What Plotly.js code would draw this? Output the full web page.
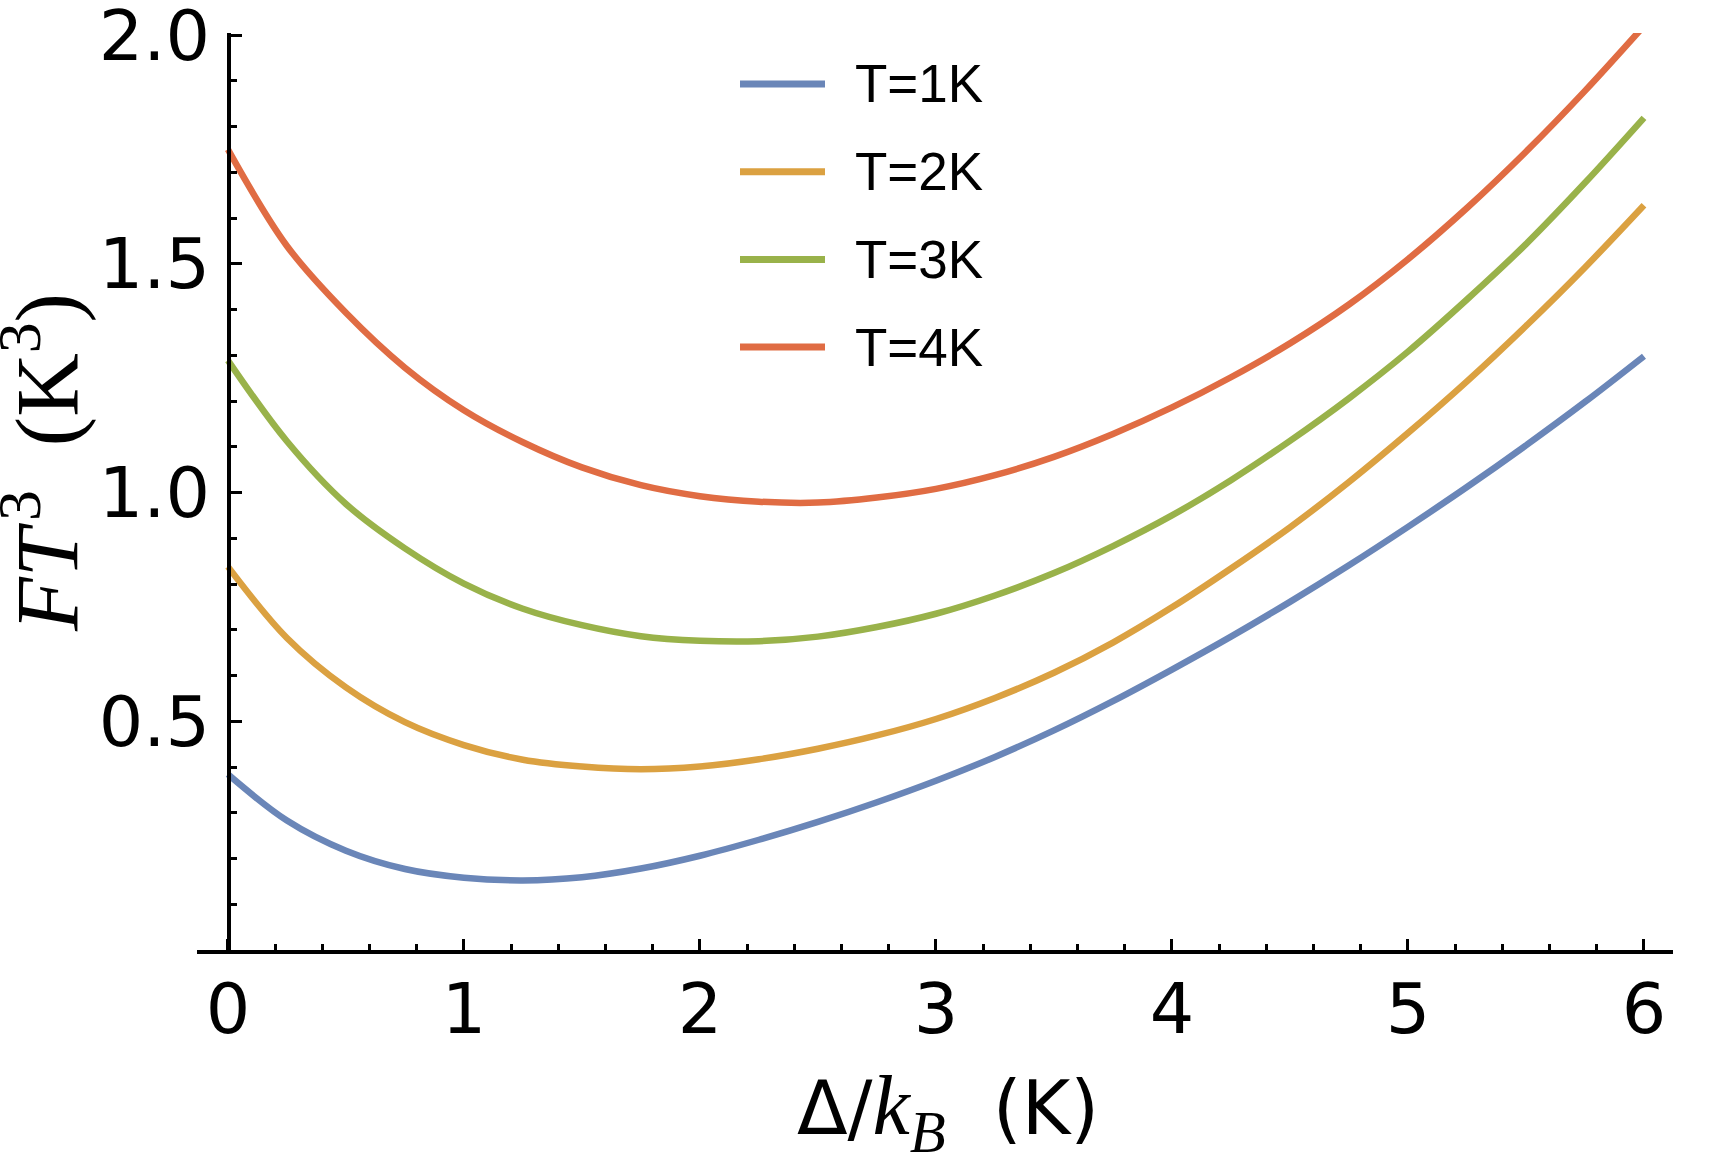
<!DOCTYPE html>
<html>
<head>
<meta charset="utf-8">
<script src="https://cdn.plot.ly/plotly-3.0.1.min.js"></script>
<style>
    html, body { margin: 0; padding: 0; background: #ffffff; }
    #plot { width: 1718px; height: 1160px; }
</style>
</head>
<body>
<div id="plot"></div>
<script>
// gap energy Delta/kB in K
var delta = [0, 0.25, 0.5, 0.75, 1, 1.25, 1.5, 1.75, 2, 2.25, 2.5, 2.75, 3,
             3.25, 3.5, 3.75, 4, 4.25, 4.5, 4.75, 5, 5.25, 5.5, 5.75, 6];

// F T^3 (K^3), one array per temperature
var t1 = [0.384, 0.283, 0.217, 0.177, 0.158, 0.152, 0.159, 0.178, 0.206, 0.241, 0.280, 0.323, 0.370,
          0.422, 0.480, 0.544, 0.613, 0.685, 0.761, 0.841, 0.925, 1.012, 1.103, 1.198, 1.298];
var t2 = [0.838, 0.682, 0.574, 0.498, 0.448, 0.416, 0.401, 0.395, 0.401, 0.417, 0.440, 0.469, 0.505,
          0.551, 0.606, 0.672, 0.749, 0.834, 0.924, 1.023, 1.130, 1.243, 1.364, 1.492, 1.628];
var t3 = [1.289, 1.112, 0.975, 0.878, 0.801, 0.746, 0.710, 0.686, 0.676, 0.675, 0.685, 0.706, 0.735,
          0.775, 0.824, 0.883, 0.950, 1.027, 1.113, 1.206, 1.308, 1.422, 1.543, 1.677, 1.819];
var t4 = [1.750, 1.539, 1.393, 1.273, 1.180, 1.110, 1.055, 1.016, 0.992, 0.980, 0.978, 0.989, 1.008,
          1.038, 1.078, 1.128, 1.186, 1.252, 1.326, 1.411, 1.510, 1.622, 1.745, 1.878, 2.020];

var names = ["T=1K", "T=2K", "T=3K", "T=4K"];
var colors = ["#6a86b8", "#dba141", "#99b24a", "#e06c43"];
var series = [t1, t2, t3, t4];

var xTicks = [0, 1, 2, 3, 4, 5, 6];
var yTicks = [0.5, 1.0, 1.5, 2.0];
var yTickText = ["0.5", "1.0", "1.5", "2.0"];

// plot area in pixels
var figW = 1718, figH = 1160;
var areaL = 197, areaR = 1673, areaT = 33, areaB = 950;

function px2x(px) { return (px - areaL) / (areaR - areaL); }
function px2y(py) { return (areaB - py) / (areaB - areaT); }

var traces = [];
var shapes = [];
var annotations = [];

for (var i = 0; i < series.length; i++) {
    traces.push({
        x: delta,
        y: series[i],
        name: names[i],
        mode: "lines",
        type: "scatter",
        line: { color: colors[i], width: 6.5, shape: "spline", smoothing: 1 },
        hoverinfo: "skip",
    });

    // hand made legend, Mathematica style
    var ly = 84 + i * 87.7;
    shapes.push({
        type: "line",
        xref: "paper",
        yref: "paper",
        x0: px2x(740),
        x1: px2x(825),
        y0: px2y(ly),
        y1: px2y(ly),
        line: { color: colors[i], width: 7 },
    });
    annotations.push({
        xref: "paper",
        yref: "paper",
        x: px2x(853),
        y: px2y(ly),
        xanchor: "left",
        yanchor: "middle",
        showarrow: false,
        text: names[i],
        font: { family: "Liberation Sans, Arial, sans-serif", size: 53, color: "#000000" },
    });
}

// axis labels
annotations.push({
    xref: "paper",
    yref: "paper",
    x: px2x(41),
    y: px2y(463),
    xanchor: "center",
    yanchor: "middle",
    textangle: -90,
    showarrow: false,
    text: "<i>FT</i>\u200a<sup>3</sup>\u00a0 (K<sup>3</sup>)",
    font: { family: "Liberation Serif, Times New Roman, serif", size: 88, color: "#000000" },
});
annotations.push({
    xref: "paper",
    yref: "paper",
    x: px2x(948),
    y: px2y(1112),
    xanchor: "center",
    yanchor: "middle",
    showarrow: false,
    text: "Δ/<span style=\"font-family:Liberation Serif;font-size:84px\"><i>k</i><sub><i>B</i></sub></span>\u00a0 (K)",
    font: { family: "DejaVu Sans, sans-serif", size: 74, color: "#000000" },
});

var tickFont = { family: "DejaVu Sans, sans-serif", size: 70, color: "#000000" };

var layout = {
    width: figW,
    height: figH,
    showlegend: false,
    paper_bgcolor: "#ffffff",
    plot_bgcolor: "#ffffff",
    margin: { l: areaL, r: figW - areaR, t: areaT, b: figH - areaB, pad: 0 },
    xaxis: {
        range: [-0.131, 6.123],
        showgrid: false,
        zeroline: false,
        showline: true,
        linecolor: "#000000",
        linewidth: 3.5,
        ticks: "inside",
        ticklen: 11,
        tickwidth: 3,
        tickcolor: "#000000",
        tickmode: "array",
        tickvals: xTicks,
        ticktext: xTicks.map(String),
        tickfont: tickFont,
        ticklabelstandoff: -5,
        ticklabeloverflow: "allow",
        minor: { dtick: 0.2, tick0: 0, ticks: "inside", ticklen: 6, tickwidth: 3, tickcolor: "#000000", showgrid: false },
    },
    yaxis: {
        range: [0, 2.0045],
        anchor: "free",
        position: px2x(228),
        showgrid: false,
        zeroline: false,
        showline: true,
        linecolor: "#000000",
        linewidth: 3.5,
        ticks: "inside",
        ticklen: 11,
        tickwidth: 3,
        tickcolor: "#000000",
        tickmode: "array",
        tickvals: yTicks,
        ticktext: yTickText,
        tickfont: tickFont,
        ticklabelstandoff: 3,
        ticklabeloverflow: "allow",
        minor: { dtick: 0.1, tick0: 0, ticks: "inside", ticklen: 6, tickwidth: 3, tickcolor: "#000000", showgrid: false },
    },
    shapes: shapes,
    annotations: annotations,
};

Plotly.newPlot("plot", traces, layout, { staticPlot: true });
</script>
</body>
</html>
